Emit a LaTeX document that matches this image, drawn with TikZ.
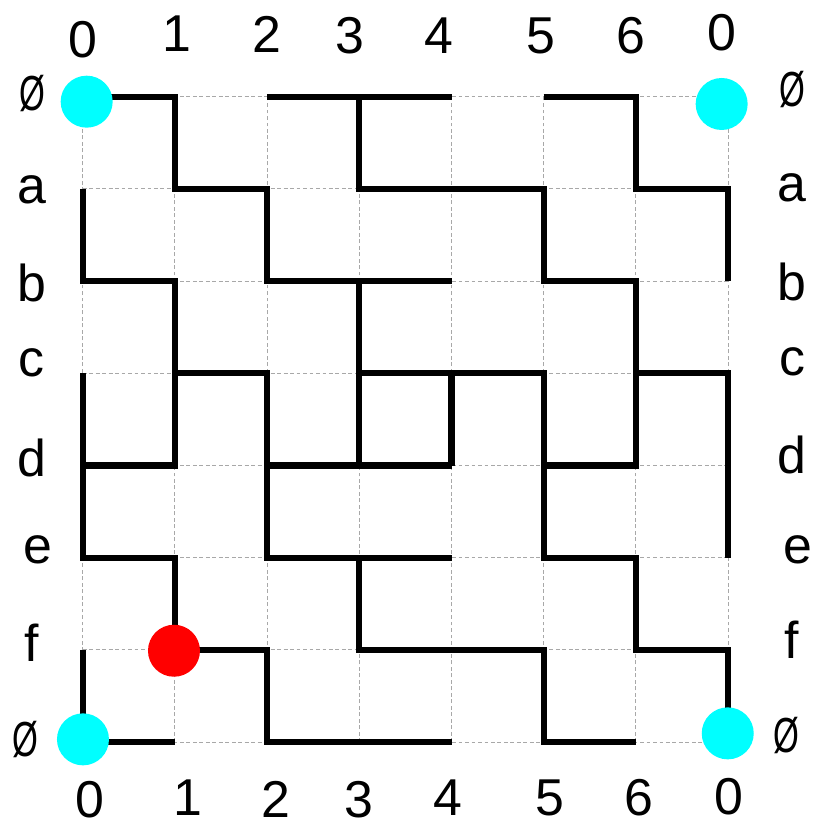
\documentclass[tikz,border=0pt]{standalone}
\usepackage{fontspec}
\usepackage{graphicx}
\setmainfont{Liberation Sans}
\usetikzlibrary{positioning}
\definecolor{dot-cyan}{HTML}{00FFFF}
\definecolor{dot-red}{HTML}{FF0000}
\definecolor{grid-gray}{HTML}{A8A8A8}
\newcommand{\nullrow}{\scalebox{0.64}[0.95]{Ø}}

\begin{document}
\begin{tikzpicture}[
  gridline/.style={
    grid-gray, line width=0.35pt, dash pattern=on 1.2pt off 0.8pt
  },
  wall/.style={
    black, line width=1.9pt
  },
  lbl/.style={
    inner sep=0pt, font=\fontsize{16}{19}\selectfont
  },
  cornerdot/.style={
    circle, fill=dot-cyan, minimum size=5.64mm, inner sep=0pt
  },
  startdot/.style={
    circle, fill=dot-red, minimum size=5.64mm, inner sep=0pt
  }
]
\useasboundingbox (-0.897,-7.899) rectangle (7.953,1.049);

%% Dashed grid
\draw[gridline] (0,-7) grid (7,0);

%% Walls
\draw[wall] (0,0) -- (1,0) -- (1,-1) -- (2,-1) -- (2,-2) -- (4,-2);
\draw[wall] (2,0) -- (4,0);
\draw[wall] (3,0) -- (3,-1) -- (5,-1) -- (5,-2) -- (6,-2) -- (6,-4) -- (5,-4);
\draw[wall] (5,0) -- (6,0) -- (6,-1) -- (7,-1) -- (7,-2);
\draw[wall] (0,-1) -- (0,-2) -- (1,-2) -- (1,-4) -- (0,-4);
\draw[wall] (0,-3) -- (0,-5) -- (1,-5) -- (1,-6) -- (2,-6) -- (2,-7) -- (4,-7);
\draw[wall] (1,-3) -- (2,-3) -- (2,-5) -- (4,-5);
\draw[wall] (2,-4) -- (4,-4);
\draw[wall] (3,-2) -- (3,-4);
\draw[wall] (3,-3) -- (5,-3) -- (5,-5) -- (6,-5) -- (6,-6) -- (7,-6) -- (7,-7);
\draw[wall] (4,-3) -- (4,-4);
\draw[wall] (6,-3) -- (7,-3) -- (7,-5);
\draw[wall] (3,-5) -- (3,-6) -- (5,-6) -- (5,-7) -- (6,-7);
\draw[wall] (0,-6) -- (0,-7) -- (1,-7);

%% Dots
\node[cornerdot] (nw) at (0.043,-0.054) {};
\node[cornerdot] (ne) at (6.93,-0.079) {};
\node[cornerdot] (sw) at (0.003,-6.97) {};
\node[cornerdot] (se) at (6.996,-6.905) {};
\node[startdot] (red) at (0.99,-6.009) {};

%% Column labels, top
\node[lbl] (top0) at (0,0.615) {0};
\node[lbl] (top1) at (1.02,0.683) {1};
\node[lbl] (top2) at (1.996,0.68) {2};
\node[lbl] (top3) at (2.90,0.658) {3};
\node[lbl] (top4) at (3.865,0.664) {4};
\node[lbl] (top5) at (4.97,0.658) {5};
\node[lbl] (top6) at (5.946,0.658) {6};
\node[lbl] (top7) at (6.93,0.696) {0};

%% Column labels, bottom
\node[lbl] (bot0) at (0.079,-7.62) {0};
\node[lbl] (bot1) at (1.142,-7.606) {1};
\node[lbl] (bot2) at (2.096,-7.617) {2};
\node[lbl] (bot3) at (2.996,-7.628) {3};
\node[lbl] (bot4) at (3.962,-7.606) {4};
\node[lbl] (bot5) at (5.068,-7.606) {5};
\node[lbl] (bot6) at (6.034,-7.606) {6};
\node[lbl] (bot7) at (7.01,-7.595) {0};

%% Row labels, left
\node[lbl] (lft0) at (-0.55,0.04) {\nullrow};
\node[lbl] (lft1) at (-0.55,-1.012) {a};
\node[lbl] (lft2) at (-0.55,-2.02) {b};
\node[lbl] (lft3) at (-0.56,-2.89) {c};
\node[lbl] (lft4) at (-0.55,-3.92) {d};
\node[lbl] (lft5) at (-0.485,-4.917) {e};
\node[lbl] (lft6) at (-0.55,-5.925) {f};
\node[lbl] (lft7) at (-0.626,-6.977) {\nullrow};

%% Row labels, right
\node[lbl] (rgt0) at (7.70,0.073) {\nullrow};
\node[lbl] (rgt1) at (7.693,-0.99) {a};
\node[lbl] (rgt2) at (7.693,-2.01) {b};
\node[lbl] (rgt3) at (7.693,-2.877) {c};
\node[lbl] (rgt4) at (7.693,-3.886) {d};
\node[lbl] (rgt5) at (7.758,-4.917) {e};
\node[lbl] (rgt6) at (7.693,-5.89) {f};
\node[lbl] (rgt7) at (7.628,-6.923) {\nullrow};

\end{tikzpicture}
\end{document}
